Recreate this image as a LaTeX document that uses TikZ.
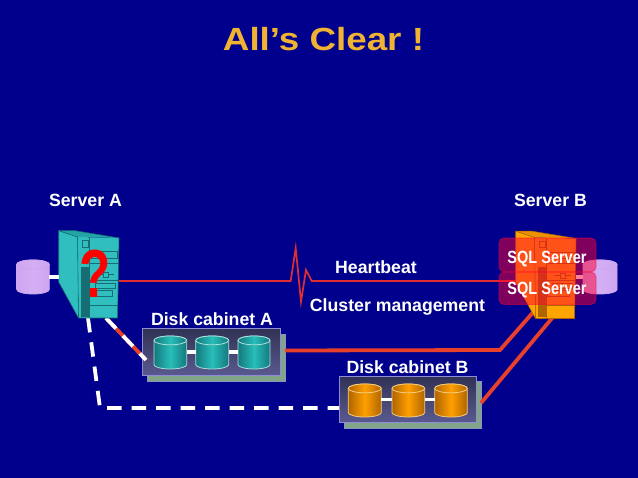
\documentclass[tikz,border=0pt]{standalone}
\usepackage{fontspec}
\setmainfont{Liberation Sans}
\usetikzlibrary{calc}
\definecolor{navy}{RGB}{0,0,140}
\definecolor{gold}{RGB}{240,178,50}
\definecolor{redline}{RGB}{232,64,42}
\definecolor{heart}{RGB}{225,45,50}
\definecolor{lilac}{RGB}{205,165,240}
\definecolor{liliac}{RGB}{212,175,245}
\definecolor{tealsrv}{RGB}{48,190,190}
\definecolor{tealdark}{RGB}{20,110,115}
\definecolor{tealtop}{RGB}{35,165,165}
\definecolor{orsrv}{RGB}{255,165,0}
\definecolor{ordark}{RGB}{175,100,0}
\definecolor{ortop}{RGB}{235,145,0}
\definecolor{overlay}{RGB}{255,0,50}
\definecolor{cabback}{RGB}{130,165,135}
\definecolor{cabtop}{RGB}{50,50,85}
\definecolor{cabbot}{RGB}{90,90,145}
\definecolor{cabedge}{RGB}{140,140,215}
\definecolor{tealmid}{RGB}{40,190,185}
\definecolor{tealside}{RGB}{20,120,125}
\definecolor{tealrim}{RGB}{170,225,220}
\definecolor{ormid}{RGB}{255,160,0}
\definecolor{orside}{RGB}{175,100,0}
\definecolor{orrim}{RGB}{245,205,130}
\tikzset{
  lbl/.style={font=\fontsize{17.7}{20}\selectfont\bfseries,text=white,inner sep=0pt},
  sql/.style={lbl,xscale=.82},
  anchorbox/.style={inner sep=0pt,outer sep=0pt},
  redconn/.style={draw=redline,line width=3.8pt},
  whitebar/.style={draw=white,line width=3.4pt},
  whitedash/.style={draw=white,line width=3.8pt,dash pattern=on 14.5pt off 10pt},
  heartline/.style={draw=heart,line width=1.7pt,line join=miter},
  overlaybox/.style={fill=overlay,fill opacity=.5,draw=overlay,draw opacity=.5,line width=.8pt,rounded corners=5pt},
}
% x, y of top-left, width, height, mid colour, side colour, rim colour
\newcommand{\drum}[7]{%
  \pgfmathsetmacro{\xr}{#1+#3}\pgfmathsetmacro{\yb}{#2+#4}%
  \pgfmathsetmacro{\xm}{#1+#3/2}\pgfmathsetmacro{\ry}{4.4}\pgfmathsetmacro{\rx}{#3/2}%
  \path[left color=#6,right color=#6,middle color=#5,draw=#7,line width=.8pt]
    (#1,#2+\ry) -- (#1,\yb-\ry) arc[start angle=180,end angle=360,x radius=\rx pt,y radius=\ry pt]
    -- (\xr,#2+\ry) arc[start angle=0,end angle=180,x radius=\rx pt,y radius=\ry pt] -- cycle;
  \path[left color=#6,right color=#6,middle color=#5,draw=#7,line width=.8pt] (\xm,#2+\ry) ellipse[x radius=\rx pt,y radius=\ry pt];
}
\newcommand{\cabinet}[5]{% x1 y1 x2 y2 name
  \fill[cabback,draw=cabedge!70!cabback,line width=.8pt] (#1+5,#2+5) rectangle (#3+5,#4+5);
  \node[anchorbox,minimum width=#3-#1,minimum height=#4-#2] (#5) at ({(#1+#3)/2},{(#2+#4)/2}) {};
  \path[top color=cabtop,bottom color=cabbot,draw=cabedge,line width=1pt] (#1,#2) rectangle (#3,#4);
}
\newcommand{\srvbody}[3]{% front, dark, top
  \fill[#1] (58.7,230.7) -- (77.5,237) -- (78.5,318) -- (58.7,282) -- cycle;
  \fill[#1] (77.5,237) -- (119,238) -- (117.5,318) -- (78.5,318) -- cycle;
  \fill[#3] (58.7,230.7) -- (75,230.7) -- (119,238) -- (77.5,237) -- cycle;
  \draw[#2,line width=.6pt] (58.7,230.7) -- (75,230.7) -- (119,238) -- (117.5,318) -- (78.5,318) -- (58.7,282) -- cycle;
  \draw[#2,line width=.6pt] (58.7,230.7) -- (77.5,237) -- (78.5,318);
  \fill[#2] (80.5,267) rectangle (90,317);
  \draw[#2,line width=.6pt] (89.5,238) -- (89.5,318);
  \draw[#2,line width=.6pt] (82.7,240.7) rectangle (88.3,247.3);
  \draw[#2,line width=.6pt] (90,251.7) rectangle (117,258.3);
  \draw[#2,line width=.6pt] (90,263) -- (118,263);
  \draw[#2,line width=.6pt] (97,274.5) -- (103,274.5) (103,272.5) rectangle (108,277.5) (108,274.5) -- (114,274.5);
  \draw[#2,line width=.6pt] (90,280) -- (118,280);
  \draw[#2,line width=.6pt] (95,283) rectangle (115,288);
  \draw[#2,line width=.6pt] (90,290) rectangle (112,296);
  \draw[#2,line width=.6pt] (90,305) -- (117.5,305);
}
\begin{document}
\begin{tikzpicture}[x=1pt,y=-1pt]
\useasboundingbox (0,0) rectangle (638,478);
\fill[navy] (0,0) rectangle (638,478);

% title
\node[font=\fontsize{32}{36}\selectfont\bfseries,text=gold,inner sep=0pt,xscale=1.15] (title) at (323.5,39.5) {All’s Clear !};

% anchor points of the connectors
\coordinate (hbA) at (119,281);
\coordinate (hb1) at (290.7,281);
\coordinate (hb2) at (295.7,248);
\coordinate (hb3) at (301,301.7);
\coordinate (hb4) at (306,270);
\coordinate (hb5) at (311.7,281);
\coordinate (hbB) at (536,281);
\coordinate (dashA1) at (88,318);
\coordinate (dashbend) at (100,408);
\coordinate (dashB) at (339,408);
\coordinate (slantA) at (106,318);
\coordinate (slantEnd) at (146,360);
\coordinate (redbend) at (500,350);
\coordinate (redB1) at (536,309);
\coordinate (redB2) at (553,317);
\coordinate (redcabB) at (481,403);
\coordinate (redcabA) at (285,350.5);

% cabinets
\cabinet{142.3}{329}{280}{376}{cabA}
\cabinet{339}{376.7}{476.7}{423}{cabB}

\drum{154}{336}{32.7}{33}{tealmid}{tealside}{tealrim}
\node[anchorbox,minimum width=32.7pt,minimum height=33pt] (cA1) at (170.35,352) {};
\drum{195.7}{336}{33}{33}{tealmid}{tealside}{tealrim}
\node[anchorbox,minimum width=33pt,minimum height=33pt] (cA2) at (212.2,352) {};
\drum{238}{336}{32}{33}{tealmid}{tealside}{tealrim}
\node[anchorbox,minimum width=32pt,minimum height=33pt] (cA3) at (254,352) {};
\drum{348.3}{384}{33}{33}{ormid}{orside}{orrim}
\node[anchorbox,minimum width=33pt,minimum height=33pt] (cB1) at (364.8,399.5) {};
\drum{392}{384}{32.7}{33}{ormid}{orside}{orrim}
\node[anchorbox,minimum width=32.7pt,minimum height=33pt] (cB2) at (408.35,399.5) {};
\drum{434.7}{384}{32.6}{33}{ormid}{orside}{orrim}
\node[anchorbox,minimum width=32.6pt,minimum height=33pt] (cB3) at (451,399.5) {};

\draw[whitebar] (cA1.east) -- (cA2.west);
\draw[whitebar] (cA2.east) -- (cA3.west);
\draw[whitebar] (cB1.east) -- (cB2.west);
\draw[whitebar] (cB2.east) -- (cB3.west);

% connectors
\draw[heartline] (hbA) -- (hb1) -- (hb2) -- (hb3) -- (hb4) -- (hb5) -- (hbB);
\draw[redconn] (redcabA) -- (redbend) -- (redB1);
\draw[redconn] (redcabB) -- (redB2);
\draw[redconn] (slantA) -- (slantEnd);
\draw[whitedash] (slantA) -- (slantEnd);
\draw[whitedash] (dashA1) -- (dashbend) -- (dashB);

% drums beside the servers
\drum{16.7}{260}{32.6}{34}{liliac}{lilac}{lilac}
\node[anchorbox,minimum width=32.6pt,minimum height=34pt] (diskA) at (33,277) {};
\drum{583}{260}{34}{34}{liliac}{lilac}{lilac}
\node[anchorbox,minimum width=34pt,minimum height=34pt] (diskB) at (600,277) {};

% servers
\node[anchorbox,minimum width=60pt,minimum height=87pt] (srvA) at (89,274) {};
\srvbody{tealsrv}{tealdark}{tealtop}
\begin{scope}[shift={(457,0.5)}]
\srvbody{orsrv}{ordark}{ortop}
\node[anchorbox,minimum width=60pt,minimum height=87pt] (srvB) at (89,274) {};
\end{scope}
\draw[whitebar] (diskA.east) -- (srvA.west |- diskA.east);
\draw[whitebar] (diskB.west) -- (srvB.east |- diskB.west);

% question mark
\node[font=\fontsize{68}{68}\selectfont\bfseries,text=red,inner sep=0pt,xscale=.75] (quest) at (95,273.5) {?};

% overlays
\draw[overlaybox] (499,238) rectangle (596,272);
\draw[overlaybox] (499,272) rectangle (596,304.5);

% labels
\node[sql] (sql1) at (547,259.5) {SQL Server};
\node[sql] (sql2) at (547,290.5) {SQL Server};
\foreach \nm/\tx/\x/\y in {lsa/Server A/85.5/200, lsb/Server B/550.5/200, lhb/Heartbeat/376/267, lcm/Cluster management/397.5/306.5, lca/Disk cabinet A/212/319.5, lcb/Disk cabinet B/407.5/367}{
  \node[lbl] (\nm) at (\x,\y) {\tx};
}
\end{tikzpicture}
\end{document}
